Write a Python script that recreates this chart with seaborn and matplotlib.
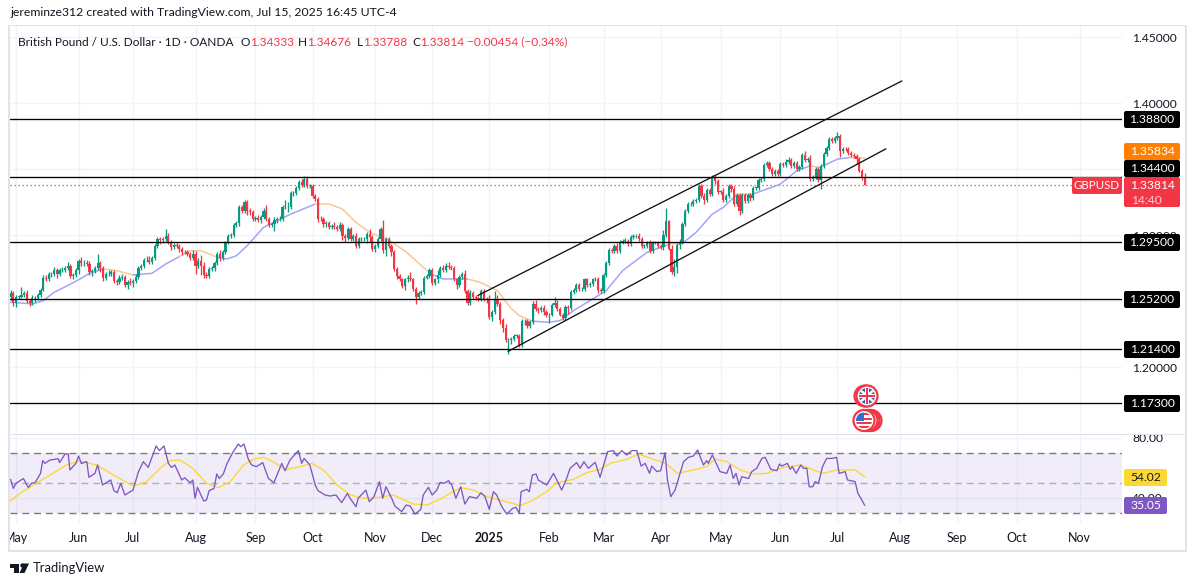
import matplotlib
matplotlib.use("Agg")
import numpy as np
import pandas as pd
import seaborn as sns
import matplotlib.pyplot as plt
from matplotlib.patches import Circle, Rectangle, FancyBboxPatch, Polygon

# ---------- daily closes ----------
apr24 = [1.2560, 1.2490]
may24 = [1.2535,1.2535,1.2545,1.2560,1.2505,1.2490,1.2525,1.2525,1.2550,1.2585,1.2675,1.2670,1.2705,1.2705,1.2735,1.2710,1.2735,1.2740,1.2755,1.2770,1.2690,1.2700,1.2735]
jun24 = [1.2805,1.2790,1.2790,1.2785,1.2720,1.2730,1.2750,1.2790,1.2755,1.2680,1.2705,1.2710,1.2725,1.2655,1.2645,1.2680,1.2685,1.2620,1.2645,1.2640]
jul24 = [1.2650,1.2685,1.2755,1.2765,1.2810,1.2815,1.2795,1.2830,1.2915,1.2970,1.2965,1.2975,1.2995,1.2950,1.2910,1.2925,1.2915,1.2895,1.2870,1.2870,1.2860,1.2830,1.2855]
aug24 = [1.2770,1.2805,1.2770,1.2700,1.2695,1.2745,1.2750,1.2790,1.2855,1.2825,1.2875,1.2945,1.2995,1.3000,1.3080,1.3090,1.3215,1.3185,1.3250,1.3180,1.3175,1.3125]
sep24 = [1.3130,1.3115,1.3140,1.3185,1.3125,1.3075,1.3085,1.3115,1.3120,1.3125,1.3215,1.3215,1.3215,1.3320,1.3320,1.3355,1.3400,1.3380,1.3425,1.3375,1.3375]
oct24 = [1.3295,1.3275,1.3125,1.3120,1.3085,1.3095,1.3065,1.3070,1.3065,1.3050,1.3075,1.2995,1.2980,1.3050,1.2975,1.2995,1.2920,1.2970,1.2970,1.2970,1.3010,1.2990,1.2895]
nov24 = [1.2915,1.2975,1.3045,1.2885,1.2975,1.2915,1.2875,1.2745,1.2695,1.2665,1.2615,1.2665,1.2680,1.2665,1.2590,1.2530,1.2565,1.2570,1.2680,1.2690,1.2735]
dec24 = [1.2640,1.2665,1.2700,1.2750,1.2740,1.2770,1.2760,1.2750,1.2665,1.2620,1.2685,1.2710,1.2580,1.2490,1.2565,1.2535,1.2525,1.2515,1.2575,1.2520,1.2515]
jan25 = [1.2380,1.2420,1.2515,1.2480,1.2355,1.2300,1.2205,1.2205,1.2215,1.2240,1.2240,1.2170,1.2350,1.2350,1.2310,1.2345,1.2480,1.2445,1.2435,1.2450,1.2420,1.2395]
feb25 = [1.2400,1.2475,1.2490,1.2440,1.2400,1.2370,1.2455,1.2450,1.2570,1.2585,1.2625,1.2590,1.2590,1.2665,1.2625,1.2630,1.2665,1.2670,1.2585,1.2580]
mar25 = [1.2700,1.2790,1.2885,1.2880,1.2920,1.2880,1.2950,1.2960,1.2960,1.2935,1.2985,1.2995,1.2995,1.2970,1.2920,1.2920,1.2945,1.2880,1.2945,1.2945,1.2915]
apr25 = [1.2910,1.3005,1.3110,1.2895,1.2725,1.2760,1.2925,1.2945,1.3085,1.3185,1.3235,1.3235,1.3260,1.3265,1.3375,1.3300,1.3265,1.3340,1.3315,1.3435,1.3410,1.3330]
may25 = [1.3330,1.3270,1.3300,1.3375,1.3350,1.3240,1.3305,1.3180,1.3305,1.3260,1.3305,1.3280,1.3360,1.3360,1.3415,1.3425,1.3535,1.3545,1.3500,1.3465,1.3485,1.3460]
jun25 = [1.3540,1.3530,1.3555,1.3570,1.3525,1.3550,1.3500,1.3520,1.3610,1.3570,1.3580,1.3425,1.3440,1.3500,1.3420,1.3525,1.3615,1.3660,1.3725,1.3710,1.3735]
jul25 = [1.3750,1.3635,1.3655,1.3650,1.3625,1.3610,1.3600,1.3575,1.3490,1.3433,1.33814]

# ---------- wicks above and below the body, in pips ----------
up_apr24 = [25,15]; dn_apr24 = [20,25]
up_may24 = [10,15,65,15,25,15,20,15,15,15,25,25,20,15,25,15,20,20,15,25,15,15,20]
dn_may24 = [30,15,10,15,15,25,15,30,15,15,10,20,15,20,10,35,15,15,20,15,15,20,15]
up_jun24 = [15,30,20,25,20,15,20,70,15,15,20,25,15,15,15,20,25,15,15,30]
dn_jun24 = [25,20,20,15,20,25,15,15,35,25,20,15,15,15,20,15,20,15,25,15]
up_jul24 = [20,25,15,15,20,25,30,15,15,15,15,15,50,25,15,15,25,15,15,20,20,15,30]
dn_jul24 = [30,15,15,15,15,15,15,15,15,15,30,20,15,20,20,15,15,25,20,15,15,15,15]
up_aug24 = [25,25,45,25,20,15,20,15,15,30,15,15,15,15,15,15,15,15,15,20,25,15]
dn_aug24 = [60,20,70,20,15,20,15,20,15,20,15,15,15,15,15,20,20,20,15,25,25,15]
up_sep24 = [15,20,15,20,45,15,15,25,15,20,15,50,40,15,15,15,15,25,25,20,15]
dn_sep24 = [15,15,20,15,15,15,15,50,20,15,15,20,40,15,25,15,15,15,15,15,15]
up_oct24 = [15,15,15,20,15,15,15,15,30,15,25,15,15,15,15,15,20,15,15,15,15,40,15]
dn_oct24 = [15,15,25,15,20,25,15,15,15,15,15,30,30,15,15,15,15,15,15,15,30,40,15]
up_nov24 = [15,15,20,70,15,15,15,15,15,15,15,15,20,40,15,15,15,15,15,15,15]
dn_nov24 = [25,15,15,20,40,15,30,15,25,15,15,30,20,15,15,50,15,20,15,15,15]
up_dec24 = [15,15,35,15,25,20,25,15,15,15,15,15,30,15,20,15,15,15,15,15,15]
dn_dec24 = [15,15,25,15,15,15,15,15,15,30,15,15,15,20,20,15,15,15,15,15,25]
up_jan25 = [30,15,60,35,15,15,30,15,15,15,15,15,15,15,15,15,20,30,15,15,20,15]
dn_jan25 = [15,30,15,15,30,30,15,105,30,15,20,15,15,30,15,15,15,15,20,15,25,15]
up_feb25 = [15,15,40,20,15,15,15,15,15,15,15,15,15,15,15,15,15,15,15,15]
dn_feb25 = [60,15,15,15,15,15,15,45,15,15,15,15,15,15,15,15,15,15,20,15]
up_mar25 = [15,15,15,15,15,20,15,15,20,15,15,15,15,25,15,15,15,20,15,15,15]
dn_mar25 = [15,15,15,15,15,15,15,15,15,15,15,15,15,15,15,15,15,15,15,15,15]
up_apr25 = [20,35,95,5,30,60,15,25,15,15,15,15,15,20,15,15,20,15,15,20,20,15]
dn_apr25 = [15,20,15,5,15,35,45,30,15,15,15,15,15,15,15,15,30,15,15,15,20,15]
up_may25 = [15,30,15,15,15,25,15,15,15,15,15,15,15,15,15,15,15,15,15,20,15,15]
dn_may25 = [15,15,15,15,20,15,15,30,15,15,15,20,15,15,15,15,15,15,15,15,15,15]
up_jun25 = [15,15,25,25,15,15,15,15,15,30,15,30,15,20,15,15,15,15,15,15,15]
dn_jun25 = [15,15,15,15,15,15,15,15,15,15,15,15,15,15,15,70,15,15,15,15,15]
up_jul25 = [35,15,15,15,15,15,15,15,15,15,35]
dn_jul25 = [15,40,15,15,15,15,15,35,15,15,3]

# ---------- moving average ----------
ma_bars = [0,8,12,16,21,25.5,29,34,39,45,52,57,62,66,70,76,79.5,83,87,93,98,103,107.5,112,117.4,122,127,132,139.5,145.6,152,155,159,163,168,172.6,179,183.6,187,192,198,202,207,213,219,225,234,242.5,247,252,258,262,267,273,283,289,294,297.5,304,308.6,314]
ma_vals = [1.2493,1.2480,1.2505,1.2568,1.2619,1.2669,1.2712,1.2745,1.2732,1.2699,1.2712,1.2782,1.2838,1.2883,1.2883,1.2833,1.2820,1.2845,1.2921,1.3060,1.3110,1.3160,1.3198,1.3236,1.3236,1.3198,1.3097,1.3022,1.2959,1.2871,1.2752,1.2702,1.2669,1.2669,1.2669,1.2644,1.2581,1.2455,1.2392,1.2349,1.2341,1.2354,1.2430,1.2505,1.2581,1.2732,1.2871,1.2934,1.2939,1.3022,1.3160,1.3211,1.3307,1.3312,1.3387,1.3488,1.3526,1.3513,1.3576,1.3589,1.35834]
ma_falling_runs = [(34,45),(62,76),(112,155),(168,192),(242.5,247),(267,273),(294,297.5),(308.6,314)]

# ---------- RSI ----------
rsi_bars = [0,1,2,4.7,6.5,7.7,9,11,11.8,12.6,14.5,17.5,18,20,21.2,21.8,24,25,26,28,28.8,31,32,33.8,36.8,38,39.2,40.5,42,45,47,48.8,50.6,53.5,54.7,56.4,58,59.2,60.4,62.9,64,66,67,67.8,68.7,71,72,73,74.8,75.8,76.7,78.2,79.5,81.5,83.7,84.6,85.8,87.4,88.6,90.4,92.7,94.8,96.8,99.7,100.9,102.7,105.8,107,107.9,110,112,113,115.6,117.4,119.6,121.7,123.8,124.8,127,127.8,130.6,131.9,133.6,135.6,136.8,138,140.1,141.3,143.8,145.4,146.9,148.7,150.8,151.7,153.6,155,156.7,157.9,159.4,161,162.2,163.7,165.5,167,168.7,171.4,172.9,174.4,176,177.5,178.7,180.6,182.4,184.6,185.8,187,187.7,189.8,190.7,191.8,193.2,194,197.1,199.6,201.4,202.6,204.2,205.7,208.1,209.4,210.8,212.4,214.9,216.7,219.5,221.6,222.9,224.7,226.5,228.4,230.2,231.8,233.3,234.9,235.7,237.6,239,240.6,241.5,242.7,244.3,247.4,249.2,251,252.6,254.7,255.9,256.5,258,260.8,263.3,264.5,265.7,266.7,267.8,268.8,271.3,272.5,274.3,276.2,277.4,279.5,281.7,282.7,283.5,285.6,286.6,287.4,288.8,290.5,291.5,292.7,293.6,294.9,295.8,297,298.5,300,301.9,303.7,304.6,306.8,307.7,310.5,311.5,312.6,314]
rsi_vals = [52.4,46.4,49.8,53,47,49.8,50.2,56.4,64.9,63.1,65.3,66.2,63.6,69.3,69.3,58.7,63.1,68,63,64.2,53.8,56.4,62,48.7,52,44.9,43.5,49.8,42,45.3,57.5,64.2,60.4,74.7,71.6,74.7,63.1,60.4,62,52,53.5,50.2,52,39.8,47.1,38,38.6,44.9,46.4,56,53,56,62.7,69.8,76,74.2,76,65.8,62,60.9,63.6,53,50.2,63.1,58.2,65.3,71.6,63.1,66.4,62,48.7,44.9,42,41.3,42,36.9,43,39.8,34.2,39.8,45.3,37.5,40.9,50.9,39.8,47.5,39.8,34.6,30.9,35.3,34.6,29.3,32.4,42,47.1,42,45.3,50.4,49.8,51.5,48.7,39.8,47.5,36,40.9,39.8,43.5,40.9,32.4,44.2,42,34.2,29.3,33.1,33.8,29.8,44.2,45.8,44.2,55.3,56,52,48.7,56.4,49.8,45.3,52,59.8,63.6,59.8,64.2,59.8,63.8,53.8,70.9,71.6,68,71.6,68.7,71.6,71.6,61.3,63.1,56.4,61.3,57.6,58.2,70.2,52,40.9,45.3,64.2,67.1,68,72,62,64.9,63.1,68.7,57.6,56.4,62,53,56.4,48.7,54.2,53,57.6,59.8,66.4,67.1,59.1,58.2,62.7,61.3,63.1,59.1,60.9,56.4,62,59.8,59.8,47.5,47.5,50.9,49.8,60.9,66.4,66.4,67.1,56.4,57.6,52,50.9,43.1,39.8,35.05]
rsi_ma_bars = [0,3.5,8.4,14.5,20.6,25.5,31.6,37.8,45,50,55,58.6,62.3,67,72,76.4,80.7,85.6,89.2,93,96.6,100.9,106.4,110.7,115,120,124.9,129.7,134.6,140.7,148,153,157.9,161.6,165.5,170.2,176.3,182.4,187.3,192.2,197.1,200.8,206.9,211.8,216.7,220.4,226.5,230.8,236.3,241.2,245.2,251,255.9,259,263.3,268.2,273.1,278,284.1,290.3,295.2,298.8,303.7,310.5,314]
rsi_ma_vals = [38.2,43.1,48.7,55.3,62,64.7,62,55.3,48,50.9,59.8,64.9,65.3,59.8,49.8,46.9,50.9,62,65.8,67.1,64.2,58.7,60.9,63.1,58.7,48.7,42,39.8,40.2,42,36,35.3,39.1,43.1,46.9,45.3,40.2,37.5,34.9,38.7,44.2,50.2,52.4,56.9,59.1,63.1,65.8,69.3,65.8,62.7,56.4,58.7,60.9,66,64.2,58.7,56,56.4,60.4,62,58.7,56.4,58.7,58.7,54.02]

# ---------- trend channel and horizontal levels ----------
upper_channel_bars = [171.8, 327.7]; upper_channel_vals = [1.2544, 1.4168]
lower_channel_bars = [182.9, 321.8]; lower_channel_vals = [1.2121, 1.3654]
level_vals = [1.388, 1.344, 1.295, 1.252, 1.214, 1.173]
level_labels = ["1.38800", "1.34400", "1.29500", "1.25200", "1.21400", "1.17300"]
last_price = 1.33814

# ---------- axis labels ----------
month_bars = [2,25,45,68,90,111,134,155,176,198,218,239,261,283,304,327,348,370,393]
month_labels = ["May","Jun","Jul","Aug","Sep","Oct","Nov","Dec","2025","Feb","Mar","Apr","May","Jun","Jul","Aug","Sep","Oct","Nov"]
price_ticks = [1.45,1.40,1.35,1.30,1.25,1.20]
price_tick_labels = ["1.45000","1.40000","","1.30000","","1.20000"]
rsi_ticks = [80,40]
rsi_tick_labels = ["80.00","40.00"]

GREEN, RED = "#089981", "#f23645"
INK = "#131722"
GRID = "#f0f3fa"
BORDER = "#e0e3eb"
FS = 8.7

sns.set_theme(style="white")
plt.rcParams["font.family"] = ["Lato", "DejaVu Sans"]
plt.rcParams["axes.unicode_minus"] = False

W, H = 1195, 586
fig = plt.figure(figsize=(W/100, H/100), dpi=100, facecolor="white")
def axes_px(x0, y0, x1, y1, **kw):
    return fig.add_axes([x0/W, 1-y1/H, (x1-x0)/W, (y1-y0)/H], **kw)

ax = axes_px(10, 26, 1122, 434)
rs = axes_px(10, 434, 1122, 523)
XLIM = (-0.22, 408.6)

closes = np.array(apr24+may24+jun24+jul24+aug24+sep24+oct24+nov24+dec24+jan25+feb25+mar25+apr25+may25+jun25+jul25)
ups = np.array(up_apr24+up_may24+up_jun24+up_jul24+up_aug24+up_sep24+up_oct24+up_nov24+up_dec24+up_jan25+up_feb25+up_mar25+up_apr25+up_may25+up_jun25+up_jul25)/1e4
dns = np.array(dn_apr24+dn_may24+dn_jun24+dn_jul24+dn_aug24+dn_sep24+dn_oct24+dn_nov24+dn_dec24+dn_jan25+dn_feb25+dn_mar25+dn_apr25+dn_may25+dn_jun25+dn_jul25)/1e4
opens = np.r_[closes[0]-0.0030, closes[:-1]]
idx = np.arange(len(closes))
tops = np.maximum(opens, closes); bots = np.minimum(opens, closes)
cols = [GREEN if c >= o else RED for o, c in zip(opens, closes)]

# grid
for a in (ax, rs):
    for sp in a.spines.values():
        sp.set_visible(False)
    a.set_xlim(*XLIM)
    a.set_xticks(month_bars)
    a.grid(True, axis="x", color=GRID, lw=1)
    a.set_axisbelow(True)
ax.set_ylim(1.14954, 1.4584)
ax.yaxis.tick_right()
ax.set_yticks(price_ticks, price_tick_labels, fontsize=FS, color=INK)
ax.tick_params(axis="y", length=0, pad=7.5)
ax.tick_params(axis="x", length=0, labelbottom=False)
ax.grid(True, axis="y", color=GRID, lw=1)

# candles
ax.vlines(idx, bots-dns, tops+ups, colors=cols, lw=0.95, zorder=3)
ax.bar(idx, np.maximum(tops-bots, 0.00025), bottom=bots, width=0.82, color=cols, lw=0, zorder=4)

# levels
for v in level_vals:
    ax.axhline(v, color="black", lw=0.95, zorder=5)
ax.axhline(last_price, color=RED, lw=0.9, ls=(0, (1, 2.2)), zorder=2)

# channel
sns.lineplot(x=upper_channel_bars, y=upper_channel_vals, ax=ax, color="#111111", lw=0.95, zorder=6, legend=False)
sns.lineplot(x=lower_channel_bars, y=lower_channel_vals, ax=ax, color="#111111", lw=0.95, zorder=6, legend=False)

# moving average, drawn in runs of colour
ma_df = pd.DataFrame({"bar": ma_bars, "ma": ma_vals})
edges = sorted({0, 314, *[b for r in ma_falling_runs for b in r]})
for a0, a1 in zip(edges[:-1], edges[1:]):
    seg = ma_df[(ma_df.bar >= a0) & (ma_df.bar <= a1)]
    falling = any(r[0] <= a0 and a1 <= r[1] for r in ma_falling_runs)
    sns.lineplot(data=seg, x="bar", y="ma", ax=ax, color="#fac793" if falling else "#a3a5f7",
                 lw=1.1, zorder=2.5, estimator=None, sort=False, legend=False)
ax.set_xlabel(""); ax.set_ylabel("")

# RSI pane
rs.set_ylim(80-(523-438)/1.5, 80+4/1.5)
rs.axhspan(30, 70, color="#7e57c2", alpha=0.10, lw=0, zorder=1)
for v in (70, 50, 30):
    rs.axhline(v, color="#787b86", lw=1, ls=(0, (5, 3.5)), alpha=0.55 if v == 50 else 1, zorder=2)
for v in rsi_ticks:
    rs.axhline(v, color=GRID if v == 80 else "#e3e2f0", lw=1, zorder=1.5)
sns.lineplot(x=rsi_ma_bars, y=rsi_ma_vals, ax=rs, color="#fdd835", lw=1.0, zorder=3, estimator=None, sort=False, legend=False)
sns.lineplot(x=rsi_bars, y=rsi_vals, ax=rs, color="#7e57c2", lw=0.95, zorder=4, estimator=None, sort=False, legend=False)
rs.yaxis.tick_right()
rs.set_yticks(rsi_ticks, rsi_tick_labels, fontsize=FS, color=INK)
rs.tick_params(axis="y", length=0, pad=7.5)
rs.set_xticks(month_bars, month_labels, fontsize=9, color=INK)
rs.tick_params(axis="x", length=0, pad=6.5)
for t in rs.get_xticklabels():
    if t.get_text() == "2025":
        t.set_fontweight("bold")
rs.set_xlabel(""); rs.set_ylabel("")

# overlay in picture pixels for the tags, frame, icons
ov = fig.add_axes([0, 0, 1, 1], zorder=10)
ov.set_xlim(0, W); ov.set_ylim(H, 0); ov.axis("off"); ov.patch.set_alpha(0)

def frame(x0, y0, x1, y1):
    ov.add_patch(Rectangle((x0, y0), x1-x0, y1-y0, fc=BORDER, ec="none"))
frame(8, 25, 1187, 26)
frame(8, 25, 10, 552)
frame(8, 550, 1187, 552)
frame(1185, 25, 1187, 552)
frame(10, 433.5, 1185, 434.5)
ov.add_patch(Rectangle((0, 526), 8, 22, fc="white", ec="none"))

def tag(y0, y1, col, txt, tc="white", x0=1124, x1=1180, fs=FS):
    ov.add_patch(FancyBboxPatch((x0+1.5, y0+1.5), x1-x0-3, y1-y0-3, boxstyle="round,pad=1.5,rounding_size=2", fc=col, ec="none"))
    ov.text((x0+x1)/2, (y0+y1)/2, txt, color=tc, fontsize=fs, ha="center", va="center")

for lab, yc in zip(level_labels, [119.5, 168.5, 242.5, 299.5, 349.5, 403.5]):
    tag(yc-8.5, yc+8.5, "black", lab)
tag(143, 160, "#ff8000", "1.35834")
tag(177, 207, RED, "")
ov.text(1152, 185.5, "1.33814", color="white", fontsize=FS, ha="center", va="center")
ov.text(1146, 200, "14:40", color="#fbd0d4", fontsize=FS, ha="center", va="center")
tag(177, 194, RED, "GBPUSD", x0=1072, x1=1122, fs=8.3)
tag(469, 486, "#fdd835", "54.02", tc=INK, x1=1167)
tag(497, 514, "#7e57c2", "35.05", x1=1167)

# header and legend
ov.text(10, 12, "jereminze312 created with TradingView.com, Jul 15, 2025 16:45 UTC-4", fontsize=8.8, color=INK, ha="left", va="center")
ly = 42
ov.text(18, ly, "British Pound / U.S. Dollar · 1D · OANDA", fontsize=8.6, color=INK, ha="left", va="center")
for lx, s in [(241, "O"), (298, "H"), (357, "L"), (412, "C")]:
    ov.text(lx, ly, s, fontsize=8.6, color=INK, ha="left", va="center")
for lx, s in [(250, "1.34333"), (307.5, "1.34676"), (363, "1.33788"), (420, "1.33814"), (467.5, "−0.00454 (−0.34%)")]:
    ov.text(lx, ly, s, fontsize=8.6, color=RED, ha="left", va="center")

# event icons
def ring(cx, cy, r=10.5):
    ov.add_patch(Circle((cx, cy), r, fc="white", ec=RED, lw=1.6))
for dx in (-2, 0):
    ring(867+dx, 396)
clip = Circle((867, 396), 8, transform=ov.transData)
ov.add_patch(Circle((867, 396), 8, fc="#2f5fb0", ec="none"))
for a, b, c, w in [((859,389),(875,403),"white",2.5),((859,403),(875,389),"white",2.5),((867,388),(867,404),"white",4),((859,396),(875,396),"white",4),((867,388),(867,404),RED,2),((859,396),(875,396),RED,2)]:
    l, = ov.plot([a[0], b[0]], [a[1], b[1]], color=c, lw=w*0.72, solid_capstyle="butt")
    l.set_clip_path(clip)
for dx in (7, 5, 3, 0):
    ring(864+dx, 420.5)
clip2 = Circle((864, 420.5), 8, transform=ov.transData)
ov.add_patch(Circle((864, 420.5), 8, fc="white", ec="none"))
for yy in (414, 418.5, 423, 427):
    r_ = Rectangle((855, yy-1), 18, 2.2, fc=RED, ec="none"); ov.add_patch(r_); r_.set_clip_path(clip2)
r_ = Rectangle((855, 412), 9, 8.5, fc="#2f6fd0", ec="none"); ov.add_patch(r_); r_.set_clip_path(clip2)

# footer mark
ov.add_patch(Polygon([(10,563.5),(19.5,563.5),(19.5,573),(14.5,573),(14.5,567.5),(10,567.5)], fc=INK, ec="none"))
ov.add_patch(Circle((22.5, 565.5), 2.2, fc=INK, ec="none"))
ov.add_patch(Polygon([(24,563.5),(29,563.5),(24.5,573),(19.5,573)], fc=INK, ec="none"))
ov.text(33, 568, "TradingView", fontsize=9.4, color=INK, ha="left", va="center")

fig.savefig("out.png", dpi=100, facecolor="white")
